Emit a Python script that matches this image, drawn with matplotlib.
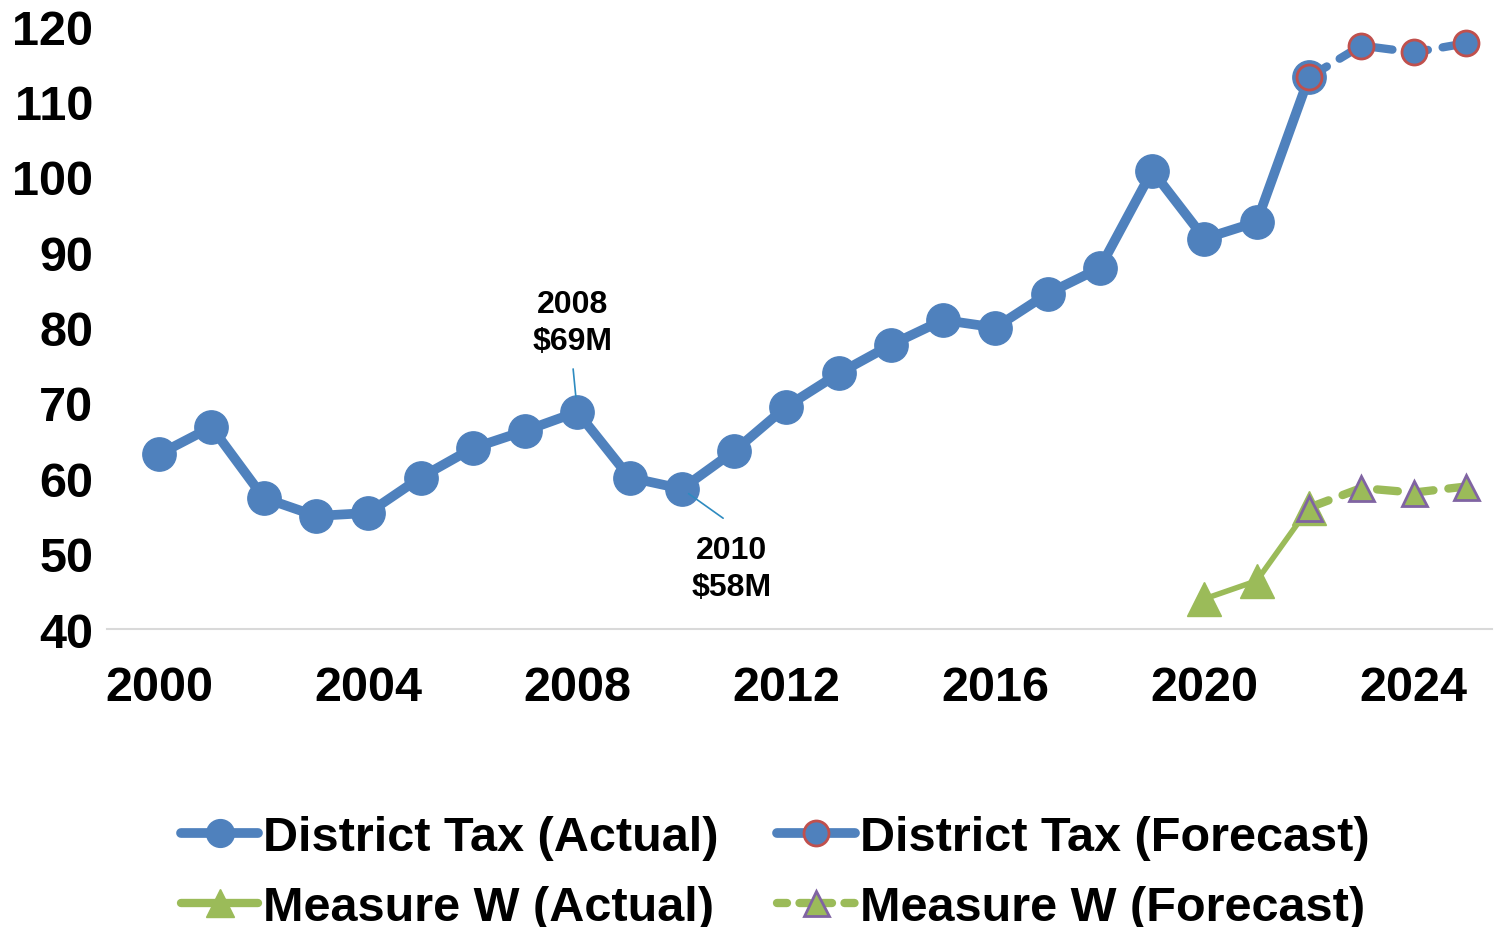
import matplotlib.pyplot as plt
from matplotlib.lines import Line2D

plt.rcParams['font.family'] = ['Liberation Sans', 'DejaVu Sans']
plt.rcParams['font.weight'] = 'bold'

years = list(range(2000, 2023))
district_actual = [63.2, 66.8, 57.4, 55.0, 55.4, 60.1, 64.0, 66.3, 68.8, 60.1,
                   58.6, 63.6, 69.5, 73.9, 77.7, 81.0, 80.0, 84.5, 87.9, 100.8,
                   91.8, 94.0, 113.2]
forecast_years = [2022, 2023, 2024, 2025]
district_forecast = [113.2, 117.4, 116.5, 117.7]
w_years = [2020, 2021, 2022]
measure_w_actual = [44.0, 46.4, 56.1]
measure_w_forecast = [56.1, 58.7, 58.1, 58.9]

blue = '#4F81BD'
green = '#9BBB59'
red = '#C0504D'
purple = '#8064A2'
leader = '#2E8BC0'

fig = plt.figure(figsize=(15.02, 9.28), dpi=100)
ax = fig.add_axes([0.0712, 0.3211, 0.9221, 0.6498])

ax.plot(forecast_years, district_forecast, color=blue, lw=6, ls=(0, (2.5, 1.8)),
        dash_capstyle='round', marker='o', ms=18, mfc=blue, mec=red, mew=2, zorder=3)
ax.plot(years, district_actual, color=blue, lw=7, marker='o', ms=24,
        mfc=blue, mec=blue, zorder=2)
ax.plot(forecast_years, measure_w_forecast, color=green, lw=6, ls=(0, (2.5, 1.8)),
        dash_capstyle='round', marker='^', ms=18, mfc=green, mec=purple, mew=2, zorder=3)
ax.plot(w_years, measure_w_actual, color=green, lw=4, marker='^', ms=24,
        mfc=green, mec=green, zorder=2)

# callouts
ax.annotate('', xy=(2008, 68.8), xytext=(2007.92, 74.5),
            arrowprops=dict(arrowstyle='-', color=leader, lw=1.2,
                            shrinkA=0, shrinkB=11))
ax.text(2007.9, 76.2, '2008\n$69M', ha='center', va='bottom', fontsize=23,
        fontweight='bold', linespacing=1.3)
ax.annotate('', xy=(2010, 58.6), xytext=(2010.79, 54.7),
            arrowprops=dict(arrowstyle='-', color=leader, lw=1.2,
                            shrinkA=0, shrinkB=6))
ax.text(2010.95, 52.5, '2010\n$58M', ha='center', va='top', fontsize=23,
        fontweight='bold', linespacing=1.3)

ax.set_xlim(1999.0, 2025.5)
ax.set_ylim(40, 120)
ax.set_xticks(range(2000, 2025, 4))
ax.set_yticks(range(40, 121, 10))
ax.tick_params(axis='x', length=0, pad=26, labelsize=35)
ax.tick_params(axis='y', length=0, pad=10, labelsize=35)
for lab in ax.get_xticklabels() + ax.get_yticklabels():
    lab.set_fontweight('bold')
for s in ['top', 'right', 'left']:
    ax.spines[s].set_visible(False)
ax.spines['bottom'].set_color('#D9D9D9')
ax.spines['bottom'].set_linewidth(1.5)

handles = [
    Line2D([], [], color=blue, lw=7, marker='o', ms=20, mfc=blue, mec=blue,
           solid_capstyle='round'),
    Line2D([], [], color=green, lw=6, marker='^', ms=20, mfc=green, mec=green,
           solid_capstyle='round'),
    Line2D([], [], color=blue, lw=7, marker='o', ms=18, mfc=blue, mec=red, mew=2,
           solid_capstyle='round'),
    Line2D([], [], color=green, lw=6, ls=(0, (1.2, 1.5)), dash_capstyle='round',
           marker='^', ms=18, mfc=green, mec=purple, mew=2),
]
labels = ['District Tax (Actual)', 'Measure W (Actual)',
          'District Tax (Forecast)', 'Measure W (Forecast)']
fig.legend(handles, labels, ncol=2, loc='center', bbox_to_anchor=(0.516, 0.059),
           frameon=False, prop={'size': 35, 'weight': 'bold'},
           handlelength=1.6, handletextpad=0.1, columnspacing=1.2,
           labelspacing=0.52, borderpad=0)

fig.savefig('out.png', dpi=100)
